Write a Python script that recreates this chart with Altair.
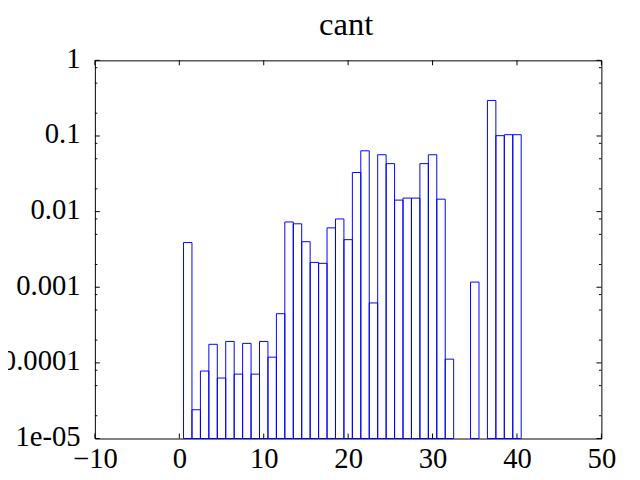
import altair as alt
import pandas as pd

# ---- data ----
bin_centers = [1, 2, 3, 4, 5, 6, 7, 8, 9, 10,
               11, 12, 13, 14, 15, 16, 17, 18, 19, 20,
               21, 22, 23, 24, 25, 26, 27, 28, 29, 30,
               31, 32, 35, 37, 38, 39, 40]
fractions = [0.0039, 2.4e-5, 7.8e-5, 1.76e-4, 6.3e-5, 1.92e-4, 7.1e-5, 1.81e-4, 7.1e-5, 1.92e-4,
             1.19e-4, 4.47e-4, 0.0073, 0.0069, 0.0040, 0.00213, 0.00207, 0.0061, 0.0080, 0.00426,
             0.0329, 0.0637, 6.2e-4, 0.0565, 0.0431, 0.0142, 0.0151, 0.0151, 0.0431, 0.0565,
             0.0146, 1.12e-4, 0.00117, 0.295, 0.101, 0.104, 0.104]
bin_width = 1.0

x_ticks = [-10, 0, 10, 20, 30, 40, 50]
y_ticks = [1e-5, 1e-4, 1e-3, 1e-2, 1e-1, 1]
y_minor = [2e-5, 5e-5, 8e-5, 2e-4, 5e-4, 8e-4, 2e-3, 5e-3, 8e-3,
           2e-2, 5e-2, 8e-2, 0.2, 0.5, 0.8]

title_text = "cant"

W, H = 513, 383
FONT = "Liberation Serif, Times New Roman, Times, serif"
FS = 29
TFS = 33
MAJ, MIN = 5, 2.5

bars_df = pd.DataFrame({"x": bin_centers, "v": fractions, "w": [bin_width] * len(bin_centers)})
xt_df = pd.DataFrame({"t": x_ticks})
yt_df = pd.DataFrame({"t": y_ticks})
ym_df = pd.DataFrame({"t": y_minor})
title_df = pd.DataFrame({"label": [title_text]})

xscale = alt.Scale(domain=[-10, 50], nice=False, zero=False)
yscale = alt.Scale(type="log", domain=[1e-5, 1], nice=False)

label_expr = ("datum.value >= 1 ? '1' : datum.value >= 0.1 ? '0.1' : datum.value >= 0.01 ? '0.01' : "
              "datum.value >= 0.001 ? '0.001' : datum.value >= 0.0001 ? '0.0001' : '1e-05'")

xaxis = alt.Axis(values=x_ticks, format="d", ticks=False, tickSize=0, domain=False, grid=False,
                 labelFont=FONT, labelFontSize=FS, labelColor="black", labelPadding=6,
                 labelFlush=False, labelOverlap=False, title=None)
yaxis = alt.Axis(values=y_ticks, labelExpr=label_expr, ticks=False, tickSize=0, domain=False,
                 grid=False, labelFont=FONT, labelFontSize=FS, labelColor="black",
                 labelPadding=15, labelFlush=False, labelOverlap=False, labelBaseline="middle",
                 labelOffset=-2, title=None)

bars = alt.Chart(bars_df).transform_calculate(
    x0="datum.x - datum.w/2", x1="datum.x + datum.w/2"
).mark_bar(fill="white", fillOpacity=0, stroke="#0000ff", strokeWidth=1).encode(
    x=alt.X("x0:Q", scale=xscale, axis=xaxis),
    x2="x1:Q",
    y=alt.Y("v:Q", scale=yscale, axis=yaxis),
    y2=alt.datum(1e-5),
)

tick_style = dict(color="black", strokeWidth=1)

y_left_major = alt.Chart(yt_df).mark_rule(**tick_style).encode(
    y=alt.Y("t:Q", scale=yscale, axis=yaxis), x=alt.value(0), x2=alt.value(MAJ))
y_right_major = alt.Chart(yt_df).mark_rule(**tick_style).encode(
    y=alt.Y("t:Q", scale=yscale, axis=yaxis), x=alt.value(W - MAJ), x2=alt.value(W))
y_left_minor = alt.Chart(ym_df).mark_rule(**tick_style).encode(
    y=alt.Y("t:Q", scale=yscale, axis=yaxis), x=alt.value(0), x2=alt.value(MIN))
y_right_minor = alt.Chart(ym_df).mark_rule(**tick_style).encode(
    y=alt.Y("t:Q", scale=yscale, axis=yaxis), x=alt.value(W - MIN), x2=alt.value(W))
x_bottom = alt.Chart(xt_df).mark_rule(**tick_style).encode(
    x=alt.X("t:Q", scale=xscale, axis=xaxis), y=alt.value(H - MAJ), y2=alt.value(H))
x_top = alt.Chart(xt_df).mark_rule(**tick_style).encode(
    x=alt.X("t:Q", scale=xscale, axis=xaxis), y=alt.value(0), y2=alt.value(MAJ))

title_mark = alt.Chart(title_df).mark_text(
    font=FONT, fontSize=TFS, color="black", align="center", baseline="alphabetic"
).encode(text="label:N", x=alt.value(W / 2 - 2), y=alt.value(-26))

chart = alt.layer(
    bars, y_left_major, y_right_major, y_left_minor, y_right_minor, x_bottom, x_top, title_mark
).properties(
    width=W, height=H,
    background="white",
    autosize=alt.AutoSizeParams(type="none"),
    padding={"left": 88, "top": 50, "right": 31, "bottom": 39},
).configure_view(
    stroke="black", strokeWidth=1
)

chart.save("out.html", embed_options={"renderer": "svg", "actions": False})
